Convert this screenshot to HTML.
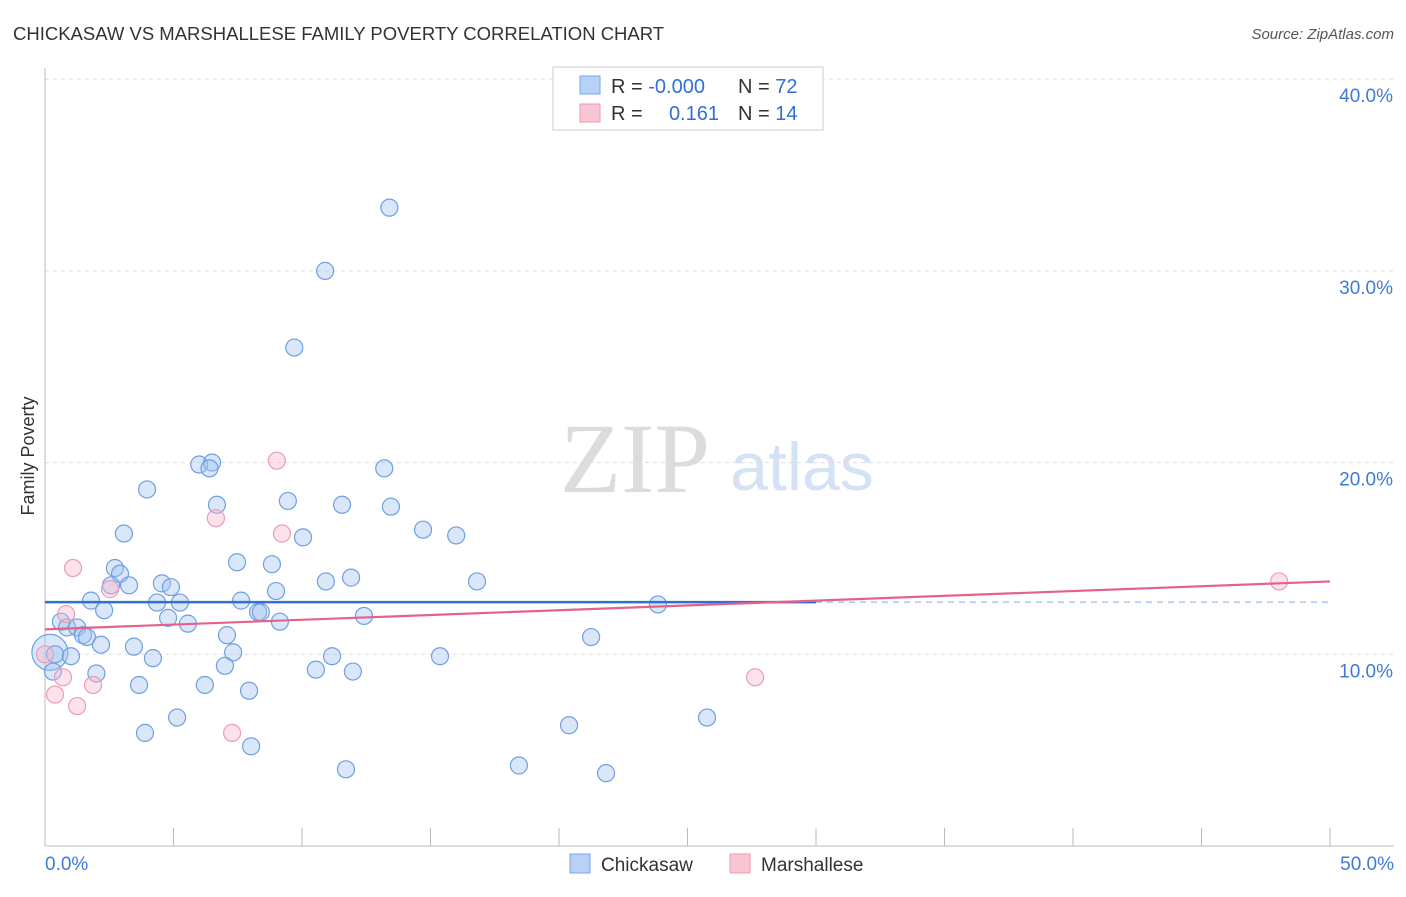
<!DOCTYPE html>
<html><head><meta charset="utf-8"><style>
body{margin:0;background:#fff;font-family:"Liberation Sans",sans-serif;}
</style></head><body>
<svg id="chart" width="1406" height="892" font-family="Liberation Sans, sans-serif">
<text x="13" y="40" font-size="18.5" fill="#333">CHICKASAW VS MARSHALLESE FAMILY POVERTY CORRELATION CHART</text>
<text x="1394" y="39" font-size="15" fill="#555" font-style="italic" text-anchor="end">Source: ZipAtlas.com</text>
<text x="635" y="492" font-size="100" fill="#dcdcdc" style="font-family:'Liberation Serif',serif" text-anchor="middle">ZIP</text>
<text x="802" y="490" font-size="68" fill="#d4e2f4" text-anchor="middle">atlas</text>
<text transform="translate(34,456) rotate(-90)" font-size="18" fill="#333" text-anchor="middle">Family Poverty</text>
<g id="grid"></g><g id="pts"></g><g id="lines"></g>
<g>
<rect x="553" y="67" width="270" height="63" fill="#fff" stroke="#ccc"/>
<rect x="580" y="76" width="20" height="18" fill="#b7d2f7" stroke="#7aa5e6"/>
<rect x="580" y="104" width="20" height="18" fill="#f9c6d4" stroke="#ee9ab2"/>
<text x="611" y="93" font-size="20" fill="#333">R = <tspan fill="#2f6fd6">-0.000</tspan></text>
<text x="738" y="93" font-size="20" fill="#333">N = <tspan fill="#2f6fd6">72</tspan></text>
<text x="611" y="120" font-size="20" fill="#333">R =</text>
<text x="719" y="120" font-size="20" fill="#2f6fd6" text-anchor="end">0.161</text>
<text x="738" y="120" font-size="20" fill="#333">N = <tspan fill="#2f6fd6">14</tspan></text>
</g>
<g>
<rect x="570" y="854" width="20" height="19" fill="#b7d2f7" stroke="#7aa5e6"/>
<text x="601" y="871" font-size="19" fill="#333">Chickasaw</text>
<rect x="730" y="854" width="20" height="19" fill="#f9c6d4" stroke="#ee9ab2"/>
<text x="761" y="871" font-size="19" fill="#333">Marshallese</text>
</g>
</svg>
<script>
const yTicks=[10,20,30,40];
const yTickLabels=["10.0%","20.0%","30.0%","40.0%"];
const xTickLabels=["0.0%","50.0%"];
const blueX=[13.4,10.9,9.7,6.0,6.5,6.4,13.2,3.97,6.69,9.45,11.56,13.46,14.71,3.07,16.0,10.04,7.47,8.83,2.72,2.92,2.57,3.27,4.55,4.9,10.93,11.91,16.81,8.99,1.79,4.36,5.25,7.63,23.85,2.3,8.29,8.4,4.79,12.41,9.14,5.56,0.62,0.86,1.25,1.48,1.63,7.08,21.25,2.18,3.46,0.19,0.39,1.01,4.2,7.32,11.17,15.37,7.0,10.54,11.98,2.0,0.31,3.66,6.22,7.94,5.14,25.76,20.39,3.89,8.02,11.71,18.44,21.83];
const blueY=[33.3,30.0,26.0,19.9,20.0,19.7,19.7,18.6,17.8,18.0,17.8,17.7,16.5,16.3,16.2,16.1,14.8,14.7,14.5,14.2,13.6,13.6,13.7,13.5,13.8,14.0,13.8,13.3,12.8,12.7,12.7,12.8,12.6,12.3,12.2,12.2,11.9,12.0,11.7,11.6,11.7,11.4,11.4,11.0,10.9,11.0,10.9,10.5,10.4,10.1,10.0,9.9,9.8,10.1,9.9,9.9,9.4,9.2,9.1,9.0,9.1,8.4,8.4,8.1,6.7,6.7,6.3,5.9,5.2,4.0,4.2,3.8];
const pinkX=[9.02,6.65,9.22,1.09,2.53,0.82,0.0,48.02,0.7,1.87,0.39,1.25,27.63,7.28];
const pinkY=[20.1,17.1,16.3,14.5,13.4,12.1,10.0,13.8,8.8,8.4,7.9,7.3,8.8,5.9];
const blueTrend=[12.72,12.72];
const pinkTrend=[11.3,13.8];
const X=v=>45+v*25.7, Y=v=>846-v*19.17;
const NS="http://www.w3.org/2000/svg";
function mk(tag,attrs,parent){const e=document.createElementNS(NS,tag);for(const k in attrs)e.setAttribute(k,attrs[k]);parent.appendChild(e);return e;}
const grid=document.getElementById('grid'),pts=document.getElementById('pts'),lines=document.getElementById('lines');
yTicks.forEach((t,i)=>{
 const l=mk('line',{x1:45,x2:1394,y1:Y(t),y2:Y(t),stroke:'#ddd','stroke-dasharray':'4,4'},grid);
 
 
 const tx=mk('text',{x:1393,y:Y(t)+23,'font-size':19,fill:'#3d7bd9','text-anchor':'end'},grid);
 tx.textContent=yTickLabels[i];
 
 
});
const ax=mk('line',{x1:45,x2:45,y1:68,y2:846,stroke:'#bbb'},grid);


const bx=mk('line',{x1:45,x2:1394,y1:846,y2:846,stroke:'#bbb'},grid);


for(let k=1;k<=10;k++){const t=mk('line',{x1:X(k*5),x2:X(k*5),y1:828,y2:846,stroke:'#bbb'},grid);
 
 }
[[0,'start',45],[50,'end',1394]].forEach((a,i)=>{const t=mk('text',{x:a[2],y:870,'font-size':19,fill:'#3d7bd9','text-anchor':a[1]},grid);t.textContent=xTickLabels[i];
 
 });
blueX.forEach((x,i)=>{const c=mk('circle',{cx:X(x),cy:Y(blueY[i]),r:(i==49?18:8.5),fill:'rgba(160,196,240,0.4)',stroke:'#6f9fe3','stroke-width':1.2},pts);
 
 });
pinkX.forEach((x,i)=>{const c=mk('circle',{cx:X(x),cy:Y(pinkY[i]),r:8.5,fill:'rgba(247,186,204,0.4)',stroke:'#ec9bb4','stroke-width':1.2},pts);
 
 });
const bm=blueTrend[0]+(blueTrend[1]-blueTrend[0])*0.6;
const b1=mk('line',{x1:X(0),x2:X(30),y1:Y(blueTrend[0]),y2:Y(bm),stroke:'#2f6fd6','stroke-width':2.5},lines);


const b2=mk('line',{x1:X(30),x2:X(50),y1:Y(bm),y2:Y(blueTrend[1]),stroke:'#9bbbe8','stroke-width':1.2,'stroke-dasharray':'6,5'},lines);


const p1=mk('line',{x1:X(0),x2:X(50),y1:Y(pinkTrend[0]),y2:Y(pinkTrend[1]),stroke:'#e4618b','stroke-width':2.2},lines);


</script>
</body></html>
